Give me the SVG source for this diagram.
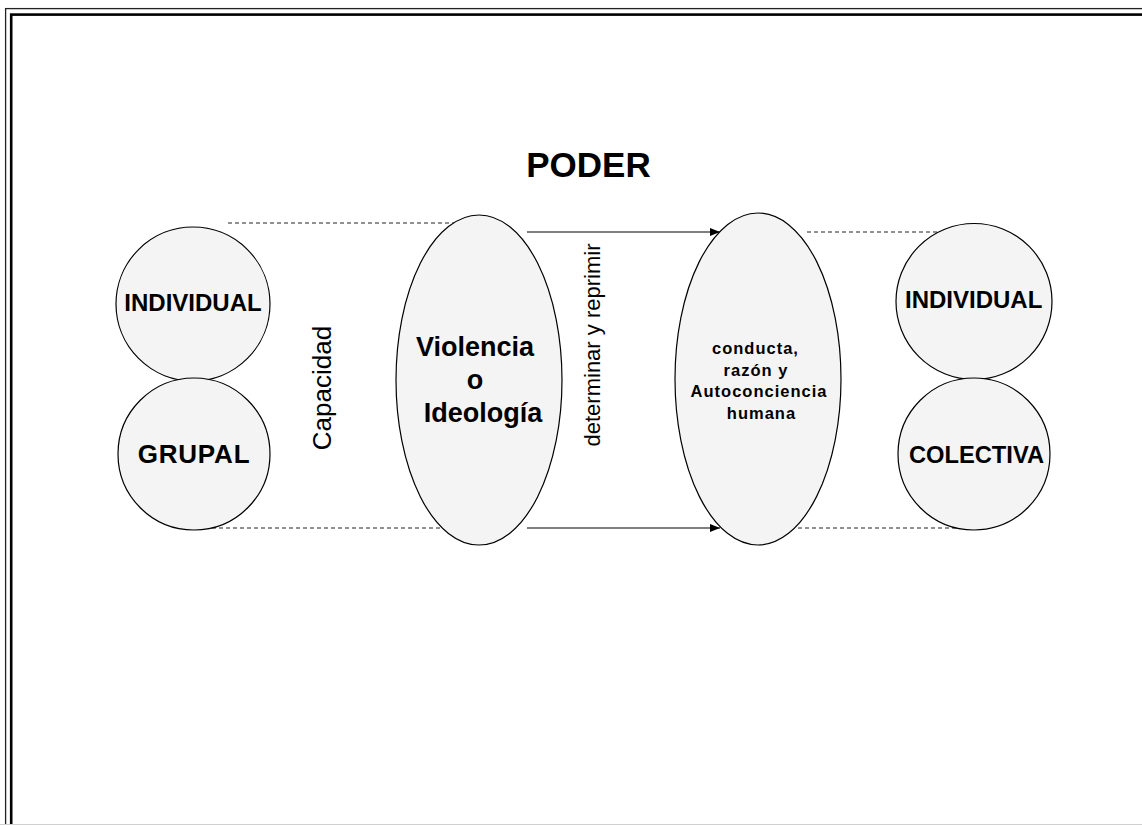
<svg xmlns="http://www.w3.org/2000/svg" width="1142" height="825" viewBox="0 0 1142 825">
<defs>
<style>
.shape{fill:#f4f4f4;stroke:#000;stroke-width:1.2}
.dash{stroke:#222;stroke-width:1;stroke-dasharray:4 3;fill:none}
.arr{stroke:#000;stroke-width:1.2;fill:none;marker-end:url(#ah)}
.b{font-family:"Liberation Sans",Arial,sans-serif;font-weight:bold;fill:#000;text-anchor:middle}
.n{font-family:"Liberation Sans",Arial,sans-serif;fill:#000;text-anchor:middle}
</style>
<marker id="ah" viewBox="0 0 10 8" refX="10" refY="4" markerWidth="10" markerHeight="8" markerUnits="userSpaceOnUse" orient="auto">
<path d="M0,0 L10,4 L0,8 Z" fill="#000"/>
</marker>
</defs>
<rect x="0" y="0" width="1142" height="825" fill="#fff"/>
<g id="frame">
<rect x="5.6" y="8.6" width="1200" height="900" fill="none" stroke="#222" stroke-width="1.3"/>
<rect x="11.2" y="14.6" width="1200" height="900" fill="none" stroke="#000" stroke-width="2.6"/>
<line x1="0" y1="824.5" x2="1142" y2="824.5" stroke="#d0d0d0" stroke-width="1"/>
</g>
<g id="connectors">
<line class="dash" x1="228" y1="223" x2="457" y2="223"/>
<line class="dash" x1="212" y1="528" x2="448" y2="528"/>
<line class="dash" x1="807" y1="232" x2="937" y2="232"/>
<line class="dash" x1="798" y1="528" x2="968" y2="528"/>
<line class="arr" x1="527" y1="232" x2="720" y2="232"/>
<line class="arr" x1="527" y1="528" x2="720" y2="528"/>
</g>
<g id="title"><text class="b" x="588.5" y="177" font-size="35">PODER</text></g>
<g id="individual-left">
<circle class="shape" cx="193" cy="304" r="77"/>
<text class="b" x="193" y="310.5" font-size="24">INDIVIDUAL</text>
</g>
<g id="grupal">
<circle class="shape" cx="194" cy="454" r="76"/>
<text class="b" x="194" y="463" font-size="26" letter-spacing="0.8">GRUPAL</text>
</g>
<g id="capacidad"><text class="n" transform="translate(331,388) rotate(-90)" font-size="26">Capacidad</text></g>
<g id="violencia">
<ellipse class="shape" cx="479" cy="380" rx="83" ry="165"/>
<text class="b" x="475" y="356" font-size="27">Violencia</text>
<text class="b" x="475" y="389" font-size="27">o</text>
<text class="b" x="483" y="422" font-size="27">Ideología</text>
</g>
<g id="determinar"><text class="n" transform="translate(600,345) rotate(-90)" font-size="22">determinar y reprimir</text></g>
<g id="conducta">
<ellipse class="shape" cx="758" cy="379" rx="83" ry="166"/>
<text class="b" x="755.5" y="354" font-size="16.5" letter-spacing="1">conducta,</text>
<text class="b" x="756" y="376" font-size="16.5" letter-spacing="1">razón y</text>
<text class="b" x="759" y="397" font-size="16.5" letter-spacing="1">Autoconciencia</text>
<text class="b" x="761.5" y="419" font-size="16.5" letter-spacing="1">humana</text>
</g>
<g id="individual-right">
<circle class="shape" cx="974" cy="301.5" r="78"/>
<text class="b" x="973.7" y="308.3" font-size="24">INDIVIDUAL</text>
</g>
<g id="colectiva">
<circle class="shape" cx="974" cy="454" r="76"/>
<text class="b" x="976.5" y="463.3" font-size="23.7">COLECTIVA</text>
</g>
</svg>
